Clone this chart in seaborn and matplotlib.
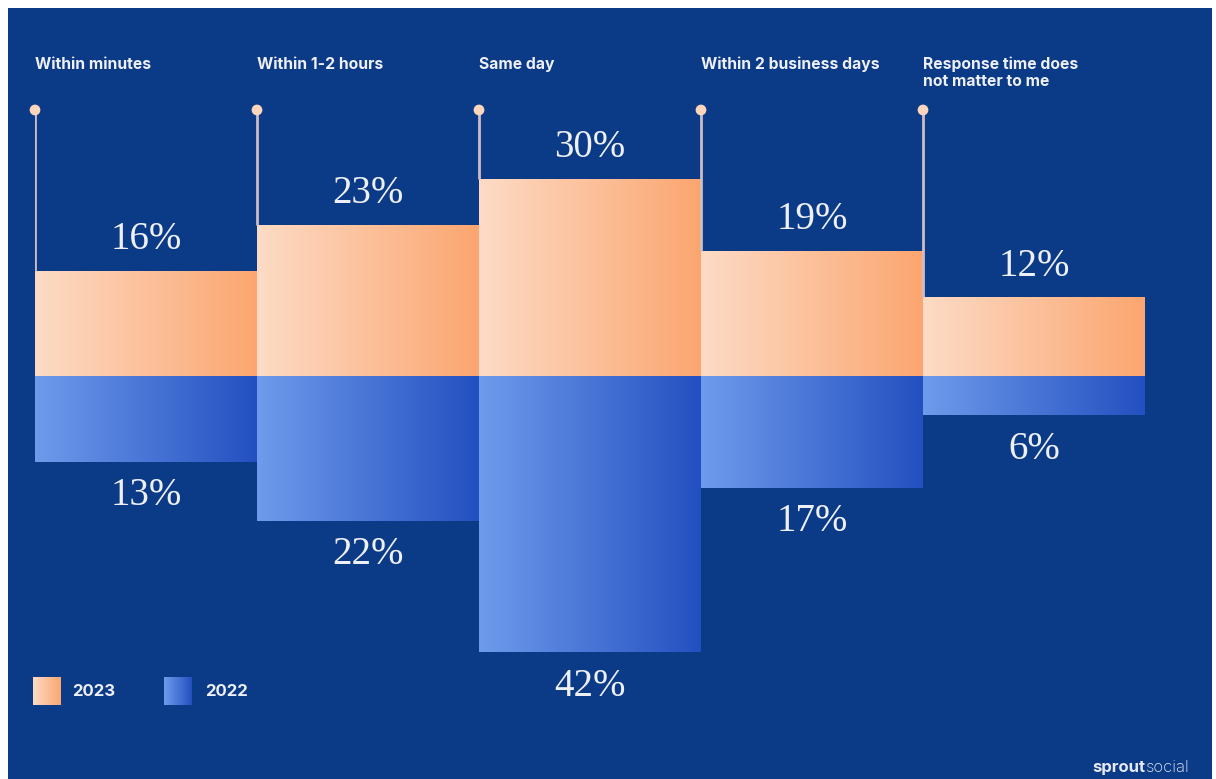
import numpy as np
import pandas as pd
import matplotlib
matplotlib.use("Agg")
import matplotlib.pyplot as plt
import seaborn as sns
from matplotlib.colors import LinearSegmentedColormap
from matplotlib.patches import Rectangle

# Response-time expectations, share of respondents (%)
categories = [
    "Within minutes",
    "Within 1-2 hours",
    "Same day",
    "Within 2 business days",
    "Response time does\nnot matter to me",
]
share_2023 = [16, 23, 30, 19, 12]
share_2022 = [13, 22, 42, 17, 6]
years = ["2023", "2022"]

W, H = 1216, 779
PX_PER_PCT = 6.58
ZERO_PX = 376

navy = "#0b3a87"
orange_cmap = LinearSegmentedColormap.from_list("peach", ["#fddbc6", "#fba670"])
blue_cmap = LinearSegmentedColormap.from_list("cobalt", ["#6f9bec", "#2350c0"])
text_col = "#eef0f6"

sns.set_theme(style="white")
plt.rcParams["font.family"] = ["Inter", "DejaVu Sans"]

df = pd.DataFrame({
    "category": categories * 2,
    "year": [years[0]] * len(categories) + [years[1]] * len(categories),
    "value": share_2023 + [-v for v in share_2022],
})

fig = plt.figure(figsize=(W / 100, H / 100), dpi=100, facecolor="white")
fig.patches.append(Rectangle((8 / W, 0), (1212 - 8) / W, (H - 8) / H,
                             transform=fig.transFigure, facecolor=navy,
                             edgecolor="none", zorder=-10))

ax = fig.add_axes([35 / W, 0, 1110 / W, 1])
ax.set_facecolor("none")

sns.barplot(data=df, x="category", y="value", hue="year", order=categories,
            hue_order=years, dodge=False, width=1.0, legend=False,
            palette={"2023": "#fba670", "2022": "#2350c0"}, ax=ax,
            errorbar=None)

ymax = ZERO_PX / PX_PER_PCT
ymin = -(H - ZERO_PX) / PX_PER_PCT

grad = np.linspace(0, 1, 256).reshape(1, -1)
for bar in ax.patches:
    h = bar.get_height()
    if h == 0 or np.isnan(h):
        continue
    x0 = bar.get_x()
    x1 = x0 + bar.get_width()
    y0, y1 = sorted([bar.get_y(), bar.get_y() + h])
    cmap = orange_cmap if h > 0 else blue_cmap
    im = ax.imshow(grad, cmap=cmap, extent=(x0, x1, y0, y1), aspect="auto",
                   interpolation="bicubic", zorder=2)
    im.set_clip_path(bar)
    bar.set_facecolor("none")
    bar.set_edgecolor("none")

ax.set_xlim(-0.5, len(categories) - 0.5)
ax.set_ylim(ymin, ymax)
ax.set_axis_off()

# Leader lines with dots, running down the left edge of each category
dot_val = (ZERO_PX - 110) / PX_PER_PCT
xs = np.arange(len(categories)) - 0.5
ax.vlines(xs, share_2023, dot_val, color="#cdbcc4", lw=2, zorder=3)
ax.scatter(xs, [dot_val] * len(xs), s=60, color="#fbd6bd", zorder=4,
           edgecolor="none", clip_on=False)

# Category headings
head_y = 1 - 57 / H
for x, label in zip(xs, categories):
    ax.text(x, head_y, label, transform=ax.get_xaxis_transform(),
            ha="left", va="top", fontsize=11.3, fontweight="bold",
            color=text_col, linespacing=1.15)

# Value labels
serif = ["Liberation Serif", "DejaVu Serif"]
for i, (a, b) in enumerate(zip(share_2023, share_2022)):
    ax.annotate(f"{a}%", (i, a), xytext=(0, 31), textcoords="offset pixels",
                ha="center", va="center", fontsize=28, color=text_col,
                family=serif, zorder=5)
    ax.annotate(f"{b}%", (i, -b), xytext=(0, -34), textcoords="offset pixels",
                ha="center", va="center", fontsize=28, color=text_col,
                family=serif, zorder=5)

# Legend with gradient swatches
for (sx, tx, cmap, lab) in [(33, 72, orange_cmap, years[0]),
                             (164, 205, blue_cmap, years[1])]:
    sw = fig.add_axes([sx / W, 1 - 705 / H, 28 / W, 28 / H])
    sw.imshow(grad, cmap=cmap, aspect="auto", interpolation="bicubic")
    sw.set_axis_off()
    fig.text(tx / W, 1 - 692 / H, lab, ha="left", va="center",
             fontsize=12, fontweight="bold", color=text_col)

# Wordmark
t1 = fig.text(1092 / W, 1 - 772 / H, "sprout", ha="left", va="baseline",
              fontsize=12, fontweight="bold", color="#e6e9f2")
ax.annotate("social", xy=(1, 0), xycoords=t1, xytext=(0.5, 0),
            textcoords="offset points", ha="left", va="bottom",
            fontsize=12, fontweight="light", color="#e6e9f2",
            annotation_clip=False)

fig.savefig("out.png", dpi=100, facecolor=fig.get_facecolor())
